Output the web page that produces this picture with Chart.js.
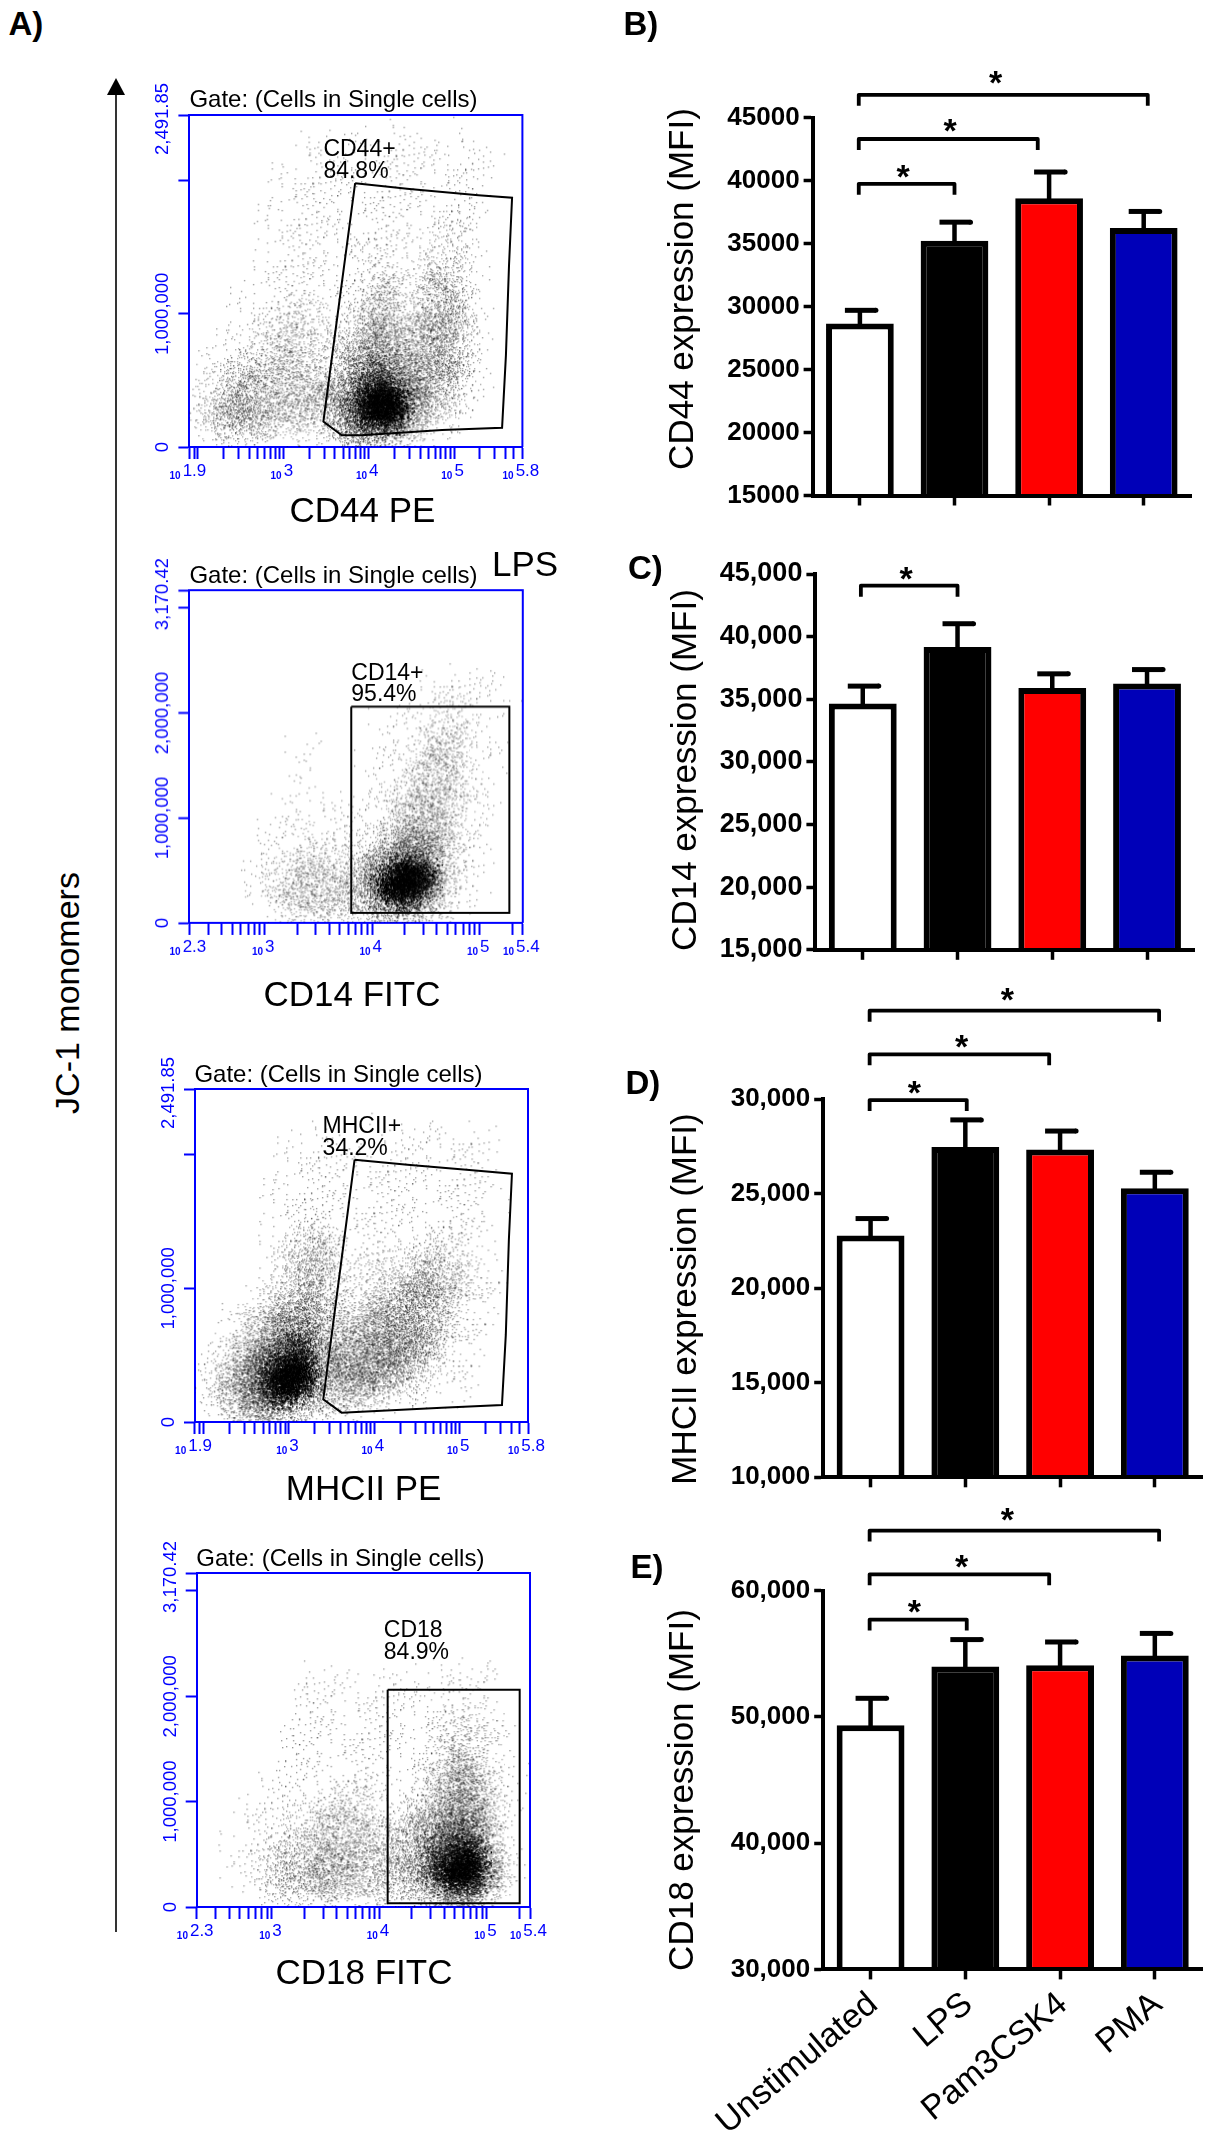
<!DOCTYPE html>
<html>
<head>
<meta charset="utf-8">
<title>Surface markers</title>
<script src="https://cdn.jsdelivr.net/npm/chart.js@4/dist/chart.umd.min.js"></script>
<style>
  body { margin: 0; background: #fff; }
  #page { position: relative; width: 1214px; height: 2139px; overflow: hidden; font-family: "Liberation Sans", Arial, sans-serif; }
  canvas { position: absolute; }
  svg { position: absolute; left: 0; top: 0; }
  .txt { position: absolute; white-space: nowrap; line-height: 1; color: #000; }
</style>
</head>
<body>
<div id="page">
  <svg width="200" height="2000">
    <line x1="116" y1="92" x2="116" y2="1932" stroke="#000" stroke-width="1.6"/>
    <polygon points="116,78 107,95 125,95" fill="#000"/>
  </svg>
</div>
<script>
// bar panels
const groups = ['Unstimulated', 'LPS', 'Pam3CSK4', 'PMA']
const barFills = ['#ffffff', '#000000', '#ff0000', '#0000b8']

const cd44Means = [28660, 35230, 38600, 36240]
const cd44Caps = [29700, 36700, 40680, 37550]
const cd44Ticks = [15000, 20000, 25000, 30000, 35000, 40000, 45000]
// from, to, level, star position, star level
const cd44Brackets = [[-0.012, 1, 39740, 0.458, 41010], [-0.012, 1.88, 43300, 0.953, 44610], [-0.012, 3.043, 46810, 1.435, 48450]]

const cd14Means = [34670, 39175, 35890, 36260]
const cd14Caps = [36050, 41030, 37030, 37370]
const cd14Ticks = [15000, 20000, 25000, 30000, 35000, 40000, 45000]
const cd14Brackets = [[-0.02, 1, 44070, 0.458, 45320]]

const mhcMeans = [22800, 27480, 27350, 25290]
const mhcCaps = [23690, 28910, 28320, 26140]
const mhcTicks = [10000, 15000, 20000, 25000, 30000]
const mhcBrackets = [[-0.01, 1.015, 29960, 0.462, 30806], [-0.01, 1.885, 32381, 0.961, 33227], [-0.01, 3.045, 34688, 1.444, 35693]]

const cd18Means = [49330, 53990, 54080, 54860]
const cd18Caps = [51470, 56120, 55930, 56610]
const cd18Ticks = [30000, 40000, 50000, 60000]
const cd18Brackets = [[-0.01, 1.015, 57703, 0.462, 58994], [-0.01, 1.885, 61290, 0.961, 62581], [-0.01, 3.045, 64752, 1.444, 66273]]

// flow plots: log10 x limits, y limits, ticks
const peLimits = [1.9, 5.8]
const fitcLimits = [2.3, 5.4]
const peTicks = [79.4, 90, 100, 200, 300, 400, 500, 600, 700, 800, 900, 1000, 2000, 3000, 4000, 5000, 6000, 7000, 8000, 9000, 10000, 20000, 30000, 40000, 50000, 60000, 70000, 80000, 90000, 100000, 200000, 300000, 400000, 500000, 631000]
const fitcTicks = [199.5, 300, 400, 500, 600, 700, 800, 900, 1000, 2000, 3000, 4000, 5000, 6000, 7000, 8000, 9000, 10000, 20000, 30000, 40000, 50000, 60000, 70000, 80000, 90000, 100000, 200000, 251190]
const peExponents = ['1.9', '3', '4', '5', '5.8']
const fitcExponents = ['2.3', '3', '4', '5', '5.4']
const peYMax = 2491850
const fitcYMax = 3170420
const peYTicks = [0, 1000000, 2000000, 2491850]
const fitcYTicks = [0, 1000000, 2000000, 3000000, 3170420]
const peYLabels = [[0, '0'], [1000000, '1,000,000'], [2491850, '2,491.85']]
const fitcYLabels = [[0, '0'], [1000000, '1,000,000'], [2000000, '2,000,000'], [3170420, '3,170.42']]

// gates: log10 of x, then y
const cd44GateX = [3.841, 4.478, 5.284, 5.679, 5.643, 5.607, 5.562, 4.859, 3.917, 3.684, 3.469, 3.841]
const cd44GateY = [1980000, 1936000, 1889600, 1871500, 1359700, 687600, 144800, 126700, 87900, 87900, 191300, 1980000]
const cd14GateX = [3.805, 5.275, 5.275, 3.805, 3.805]
const cd14GateY = [2060600, 2060600, 95400, 95400, 2060600]
const mhcGateX = [3.769, 4.388, 5.217, 5.612, 5.576, 5.54, 5.495, 4.791, 3.85, 3.617, 3.402, 3.769]
const mhcGateY = [1962500, 1925100, 1880100, 1857700, 1363300, 651700, 127300, 107400, 77400, 69900, 169800, 1962500]
const cd18GateX = [4.076, 5.304, 5.304, 4.076, 4.076]
const cd18GateY = [2061900, 2061900, 34840, 34840, 2061900]

// event density, top row first, 0 empty to 9 darkest
const cd44Density = [
  '000000000000000000000000', '000000000001001100100000', '000000011101111111111000', '000000001111111111111100',
  '000000111111111111111000', '000000111111111111111000', '000001111111111111111000', '000001111111111111121000',
  '000000111111111111221000', '000001111111211112221000', '000001111111122112221000', '000001111111122123321000',
  '000011112111233123321000', '000111122111233223431000', '000111222212343234431000', '001112232222354334431000',
  '001122332223454344431000', '011223333223565444431000', '012333333234676544431000', '123433333345787654321000',
  '123443344345899754321000', '134444333346899643210000', '123333322236777432100000', '012211111113332110000000']
const cd14Density = [
  '000000000000000000000000', '000000000000000000000000', '000000000000000000000000', '000000000000000000000000',
  '000000000000000000000000', '000000000000000000000000', '000000000000000001111110', '000000000000000011111110',
  '000000000000000111221100', '000000000000001112221100', '000000000000001122321100', '000000001000011123321100',
  '000000001000011123321100', '000000010000011233321000', '000000001000012233321000', '000000011101112333321100',
  '000000111111112344321000', '000001112111123454321000', '000001112221234665321000', '000011123222356774311000',
  '000011233333468996311000', '000012333333469984210000', '000001233333356763211000', '000000122222233322100000']
const mhcDensity = [
  '000000000000000000000000', '000000000000000000000000', '000000000000010000000000', '000000011100000111111000',
  '000000111111111111111000', '000000111111111111111000', '000001111111111111111000', '000001111111111111111000',
  '000001111111111111111100', '000001112111111111111000', '000001123211111112211000', '000001133321111222221000',
  '000001233321122233221000', '000001234321223343321100', '000012334322233443321100', '000012344422334543311000',
  '001234555323445443211000', '001235665334455543211000', '012356785444556543110000', '113467886455565432110000',
  '124678996455654321110000', '124578985445432211110000', '123567753332211111000000', '012344321111100000000000']
const cd18Density = [
  '000000000000000000000000', '000000000000000000000000', '000000000000000000000000', '000000000000000000000000',
  '000000000000000000000000', '000000000000000000000000', '000000000000000000000000', '000000011011011011111100',
  '000000011110111112111000', '000000011111111111111100', '000000011111111111222100', '000000111111111112222100',
  '000000111111111112332100', '000000111111111112432100', '000000111111111123453110', '000011111122211123453110',
  '000011112222211234564110', '001111122333222345664210', '000111223333323346775210', '001112333333333457785210',
  '000112334343333458896310', '001113344444333468997410', '000012333433333346785310', '000001221211111123432100']

Chart.defaults.font.family = '"Liberation Sans", Arial, sans-serif'
Chart.defaults.animation = false

const page = document.getElementById('page')
const FLOW_BLUE = '#0000ff'

function addCanvas(left, top, width, height) {
  const c = document.createElement('canvas')
  c.width = width
  c.height = height
  c.style.left = left + 'px'
  c.style.top = top + 'px'
  c.style.width = width + 'px'
  c.style.height = height + 'px'
  page.appendChild(c)
  return c
}

function addText(text, x, y, size, opts = {}) {
  const d = document.createElement('div')
  d.className = 'txt'
  d.textContent = text
  d.style.left = x + 'px'
  d.style.top = y + 'px'
  d.style.fontSize = size + 'px'
  if (opts.bold) d.style.fontWeight = 'bold'
  const ax = opts.left ? '0' : '-50%'
  d.style.transform = `translate(${ax},-50%)` + (opts.rot ? ` rotate(${opts.rot}deg)` : '')
  page.appendChild(d)
}

// error bars and significance brackets, placed with the chart scales
const barExtras = {
  id: 'barExtras',
  afterDatasetsDraw(chart, args, o) {
    const { ctx, scales: { x, y } } = chart
    ctx.save()
    ctx.strokeStyle = '#000'
    ctx.fillStyle = '#000'
    ctx.lineCap = 'butt'
    o.caps.forEach((cap, i) => {
      const cx = x.getPixelForValue(i)
      const top = y.getPixelForValue(o.means[i])
      const yc = y.getPixelForValue(cap)
      ctx.lineWidth = 4.5
      ctx.beginPath()
      ctx.moveTo(cx, top + 2)
      ctx.lineTo(cx, yc)
      ctx.stroke()
      ctx.lineWidth = 5
      ctx.beginPath()
      ctx.moveTo(cx - 15, yc)
      ctx.lineTo(cx + 16, yc)
      ctx.stroke()
      ctx.beginPath()
      ctx.arc(cx + 16, yc, 2.5, 0, Math.PI * 2)
      ctx.fill()
    })
    ctx.lineWidth = 3.8
    ctx.lineJoin = 'round'
    ctx.font = 'bold 34px "Liberation Sans"'
    ctx.textAlign = 'center'
    o.brackets.forEach(([from, to, level, starAt, starLevel]) => {
      const x1 = x.getPixelForValue(from)
      const x2 = x.getPixelForValue(to)
      const yb = y.getPixelForValue(level)
      ctx.beginPath()
      ctx.moveTo(x1, yb + 11)
      ctx.lineTo(x1, yb)
      ctx.lineTo(x2, yb)
      ctx.lineTo(x2, yb + 11)
      ctx.stroke()
      ctx.fillText('*', x.getPixelForValue(starAt), y.getPixelForValue(starLevel) + 34 * 0.58)
    })
    ctx.restore()
  }
}

function barPanel(top, height, axisX, axisEnd, yTop, yBottom, means, caps, ticks, brackets, opts = {}) {
  const left = 600
  const width = 614
  const yWidth = 100
  const xHeight = opts.showGroups ? top + height - yBottom : 24
  new Chart(addCanvas(left, top, width, height), {
    type: 'bar',
    data: {
      labels: groups,
      datasets: [{
        data: means,
        backgroundColor: barFills,
        borderColor: '#000',
        borderWidth: 6,
        barPercentage: 0.716,
        categoryPercentage: 1
      }]
    },
    options: {
      responsive: false,
      layout: { padding: { left: axisX - left - yWidth, right: left + width - axisEnd, top: yTop - top, bottom: top + height - yBottom - xHeight } },
      plugins: { legend: { display: false }, tooltip: { enabled: false }, barExtras: { means, caps, brackets } },
      scales: {
        x: {
          afterFit(s) { s.height = xHeight },
          border: { color: '#000', width: 4, z: 1 },
          grid: { offset: false, drawOnChartArea: false, tickLength: 10, tickWidth: 3.5, tickColor: '#000' },
          ticks: {
            display: !!opts.showGroups,
            autoSkip: false,
            color: '#000',
            minRotation: 40,
            maxRotation: 40,
            padding: 5,
            labelOffset: 3,
            font: { size: 34 }
          }
        },
        y: {
          min: ticks[0],
          max: ticks[ticks.length - 1],
          afterFit(s) { s.width = yWidth },
          afterBuildTicks(s) { s.ticks = ticks.map(v => ({ value: v })) },
          border: { color: '#000', width: 4, z: 1 },
          grid: { drawOnChartArea: false, tickLength: 9, tickWidth: 3.5, tickColor: '#000' },
          ticks: {
            color: '#000',
            padding: 4,
            font: { size: opts.tickSize || 26, weight: 'bold' },
            callback: v => opts.plain ? String(v) : v.toLocaleString('en-US')
          }
        }
      }
    },
    plugins: [barExtras]
  })
}

// stippled soft dot per density level; a few variants so the cells do not repeat
const levelCover = [0, 0.05, 0.2, 0.55, 0.95, 1.25, 1.45, 1.8, 2.6, 4.5]
const levelAlpha = [0, 0.4, 0.34, 0.32, 0.32, 0.34, 0.38, 0.48, 0.7, 1]
const SPRITE_VARIANTS = 16
const sprites = {}
function sprite(level, variant) {
  const key = level + '_' + variant
  if (sprites[key]) return sprites[key]
  const S = 48
  const sigma = 9.8
  const norm = 2 * Math.PI * sigma * sigma / (14 * 14)
  const c = document.createElement('canvas')
  c.width = S
  c.height = S
  const g = c.getContext('2d')
  g.fillStyle = `rgba(0,0,0,${levelAlpha[level]})`
  for (let py = 0; py < S; py++) {
    for (let px = 0; px < S; px++) {
      const r2 = (px - S / 2) ** 2 + (py - S / 2) ** 2
      const p = levelCover[level] * Math.exp(-r2 / (2 * sigma * sigma)) / norm
      let h = Math.imul(px + 1, 73856093) ^ Math.imul(py + 1, 19349663) ^ Math.imul(level * 17 + variant + 1, 83492791)
      h = Math.imul(h ^ (h >>> 13), 0x5bd1e995)
      h = Math.imul(h ^ (h >>> 15), 0x27d4eb2d)
      h = (h ^ (h >>> 16)) >>> 0
      if (h / 4294967296 < p / 1.7) g.fillRect(px, py, 1.35, 1.35)
    }
  }
  sprites[key] = c
  return c
}

const flowExtras = {
  id: 'flowExtras',
  afterDraw(chart, args, o) {
    const { ctx, chartArea: a, scales: { x, y } } = chart
    ctx.save()
    ctx.strokeStyle = FLOW_BLUE
    ctx.lineWidth = 2
    ctx.beginPath()
    ctx.moveTo(a.left, a.top)
    ctx.lineTo(a.right, a.top)
    ctx.lineTo(a.right, a.bottom)
    ctx.stroke()
    ctx.fillStyle = FLOW_BLUE
    ctx.textBaseline = 'alphabetic'
    o.exponents.forEach(e => {
      const px = x.getPixelForValue(10 ** Number(e))
      ctx.font = '17px "Liberation Sans"'
      const w2 = ctx.measureText(e).width
      ctx.font = 'bold 10px "Liberation Sans"'
      const w1 = ctx.measureText('10').width
      const start = px - 1.5 - (w1 + w2 + 2) / 2
      ctx.textAlign = 'left'
      ctx.fillText('10', start, a.bottom + 32)
      ctx.font = '17px "Liberation Sans"'
      ctx.fillText(e, start + w1 + 2, a.bottom + 29)
    })
    ctx.font = '18.5px "Liberation Sans"'
    ctx.textAlign = 'center'
    o.yLabels.forEach(([v, text]) => {
      const py = y.getPixelForValue(v) + (v === o.yMax ? 4 : 0)
      ctx.save()
      ctx.translate(a.left - 21, py)
      ctx.rotate(-Math.PI / 2)
      ctx.fillText(text, 0, 0)
      ctx.restore()
    })
    ctx.restore()
  }
}

function flowPlot(frameLeft, frameRight, frameTop, frameBottom, limits, xTicks, exponents, yMax, yTicks, yLabels, gateX, gateY, density) {
  const left = 120
  const top = frameTop - 60
  const width = 480
  const height = frameBottom - frameTop + 120
  const yWidth = 30
  const xHeight = 14
  const cells = []
  density.forEach((row, r) => {
    for (let c = 0; c < row.length; c++) {
      const level = Number(row[c])
      if (level === 0) continue
      cells.push({
        x: 10 ** (limits[0] + (c + 0.5) / row.length * (limits[1] - limits[0])),
        y: (density.length - r - 0.5) / density.length * yMax,
        level,
        variant: (r * 7 + c * 5) % SPRITE_VARIANTS
      })
    }
  })
  new Chart(addCanvas(left, top, width, height), {
    type: 'scatter',
    data: {
      datasets: [{
        data: gateX.map((e, i) => ({ x: 10 ** e, y: gateY[i] })),
        showLine: true,
        borderColor: '#000',
        borderWidth: 2,
        pointRadius: 0,
        clip: false
      }, {
        data: cells,
        clip: 0,
        pointRadius: 1,
        pointStyle: ctx => sprite(ctx.raw.level, ctx.raw.variant)
      }]
    },
    options: {
      responsive: false,
      layout: { padding: { left: frameLeft - left - yWidth, right: left + width - frameRight, top: frameTop - top, bottom: top + height - frameBottom - xHeight } },
      plugins: { legend: { display: false }, tooltip: { enabled: false }, flowExtras: { exponents, yLabels, yMax } },
      scales: {
        x: {
          type: 'logarithmic',
          min: 10 ** limits[0],
          max: 10 ** limits[1],
          afterFit(s) { s.height = xHeight },
          afterBuildTicks(s) { s.ticks = xTicks.map(v => ({ value: v })) },
          border: { color: FLOW_BLUE, width: 2 },
          grid: { drawOnChartArea: false, tickLength: 12, tickWidth: 2, tickColor: FLOW_BLUE },
          ticks: { display: false, autoSkip: false }
        },
        y: {
          min: 0,
          max: yMax,
          afterFit(s) { s.width = yWidth },
          afterBuildTicks(s) { s.ticks = yTicks.map(v => ({ value: v })) },
          border: { color: FLOW_BLUE, width: 2 },
          grid: { drawOnChartArea: false, tickLength: 11, tickWidth: 2, tickColor: FLOW_BLUE },
          ticks: { display: false, autoSkip: false }
        }
      }
    },
    plugins: [flowExtras]
  })
}

flowPlot(189.4, 522.4, 114.5, 447, peLimits, peTicks, peExponents, peYMax, peYTicks, peYLabels, cd44GateX, cd44GateY, cd44Density)
flowPlot(189.4, 522.8, 590.3, 922.7, fitcLimits, fitcTicks, fitcExponents, fitcYMax, fitcYTicks, fitcYLabels, cd14GateX, cd14GateY, cd14Density)
flowPlot(195, 528, 1089, 1422, peLimits, peTicks, peExponents, peYMax, peYTicks, peYLabels, mhcGateX, mhcGateY, mhcDensity)
flowPlot(196.7, 530, 1573, 1907, fitcLimits, fitcTicks, fitcExponents, fitcYMax, fitcYTicks, fitcYLabels, cd18GateX, cd18GateY, cd18Density)

barPanel(0, 520, 812.6, 1191, 117.6, 495.5, cd44Means, cd44Caps, cd44Ticks, cd44Brackets, { plain: true })
barPanel(520, 450, 815.4, 1194.4, 574, 951.7, cd14Means, cd14Caps, cd14Ticks, cd14Brackets, { tickSize: 27 })
barPanel(970, 530, 823.2, 1202.2, 1099.3, 1477.3, mhcMeans, mhcCaps, mhcTicks, mhcBrackets)
barPanel(1500, 639, 823.2, 1202.2, 1590.6, 1969.4, cd18Means, cd18Caps, cd18Ticks, cd18Brackets, { showGroups: true })

// panel letters
addText('A)', 8.4, 23, 33, { left: true, bold: true })
addText('B)', 623.5, 23, 33, { left: true, bold: true })
addText('C)', 628, 566.7, 33, { left: true, bold: true })
addText('D)', 625.5, 1082, 33, { left: true, bold: true })
addText('E)', 630.5, 1566, 33, { left: true, bold: true })

// y titles
addText('CD44 expression (MFI)', 679.5, 289, 35, { rot: -90 })
addText('CD14 expression (MFI)', 683, 770, 35, { rot: -90 })
addText('MHCII expression (MFI)', 683, 1299, 35, { rot: -90 })
addText('CD18 expression (MFI)', 679.5, 1790, 35, { rot: -90 })
addText('JC-1 monomers', 67, 993, 34, { rot: -90 })

// dot plot captions
const gateTitle = 'Gate: (Cells in Single cells)'
addText(gateTitle, 189.4, 99, 24, { left: true })
addText(gateTitle, 189.4, 575, 24, { left: true })
addText(gateTitle, 194.4, 1073.8, 24, { left: true })
addText(gateTitle, 196.3, 1558, 24, { left: true })
addText('CD44+', 323.4, 147.8, 23, { left: true })
addText('84.8%', 323.4, 169.8, 23, { left: true })
addText('CD14+', 351.3, 671.7, 23, { left: true })
addText('95.4%', 351.3, 693.3, 23, { left: true })
addText('MHCII+', 322.6, 1125.3, 23, { left: true })
addText('34.2%', 322.6, 1147, 23, { left: true })
addText('CD18', 383.8, 1629, 23, { left: true })
addText('84.9%', 383.8, 1650.5, 23, { left: true })
addText('CD44 PE', 362.4, 508.6, 35)
addText('LPS', 525, 562.5, 35)
addText('CD14 FITC', 352, 992.5, 35)
addText('MHCII PE', 363.6, 1486.7, 35)
addText('CD18 FITC', 364, 1970.8, 35)
</script>
</body>
</html>
